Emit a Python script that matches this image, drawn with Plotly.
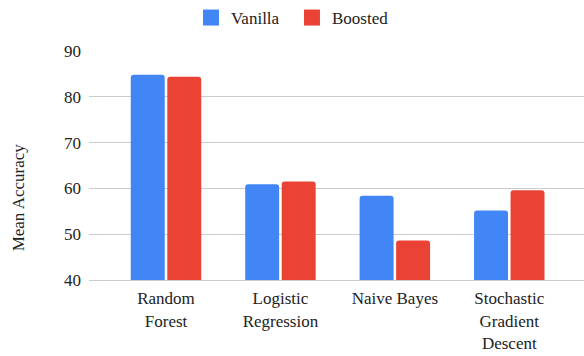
import plotly.graph_objects as go

# Mean accuracy per classifier, before and after boosting
categories = ["Random Forest", "Logistic Regression", "Naive Bayes",
              "Stochastic Gradient Descent"]
tick_labels = ["Random<br>Forest", "Logistic<br>Regression", "Naive Bayes",
               "Stochastic<br>Gradient<br>Descent"]
vanilla = [84.8, 60.9, 58.4, 55.2]
boosted = [84.4, 61.5, 48.6, 59.6]
y_ticks = [40, 50, 60, 70, 80, 90]

BLUE = "#4285F4"
RED = "#EA4335"
FONT = "Liberation Serif"
TEXT = "#222222"
GRID = "#cccccc"
font = dict(family=FONT, size=17, color=TEXT)

fig = go.Figure()
fig.add_trace(go.Bar(x=categories, y=vanilla, name="Vanilla",
                     marker=dict(color=BLUE, line=dict(width=0)),
                     showlegend=False))
fig.add_trace(go.Bar(x=categories, y=boosted, name="Boosted",
                     marker=dict(color=RED, line=dict(width=0)),
                     showlegend=False))

# larger square swatches for the legend
for name, color in (("Vanilla", BLUE), ("Boosted", RED)):
    fig.add_trace(go.Scatter(x=[None], y=[None], mode="markers", name=name,
                             marker=dict(symbol="square", size=16, color=color)))

fig.update_layout(
    width=584, height=356,
    margin=dict(l=89, r=0, t=49, b=76),
    paper_bgcolor="white", plot_bgcolor="white",
    font=font,
    barmode="group", bargap=0.362, bargroupgap=0.07,
    barcornerradius=3,
    legend=dict(orientation="h", xref="paper", x=0.206, xanchor="left",
                y=1.1456, yanchor="middle", bgcolor="rgba(0,0,0,0)",
                font=font, itemsizing="trace",
                entrywidth=56, entrywidthmode="pixels"),
    xaxis=dict(type="category", range=[-0.673, 3.653],
               tickmode="array", tickvals=categories, ticktext=tick_labels,
               tickfont=font, ticklabelstandoff=3,
               showgrid=False, showline=True, linecolor=GRID, linewidth=1,
               ticks="", zeroline=False),
    yaxis=dict(range=[40, 90], tickmode="array", tickvals=y_ticks,
               tickfont=font, ticklabelstandoff=7,
               showgrid=True, gridcolor=GRID, gridwidth=1,
               zeroline=False, showline=False, ticks=""),
    annotations=[dict(text="Mean Accuracy", textangle=-90, showarrow=False,
                      xref="paper", yref="paper", x=-0.1434, y=0.361,
                      xanchor="center", yanchor="middle", font=font)],
)

fig.write_html("out.html")
